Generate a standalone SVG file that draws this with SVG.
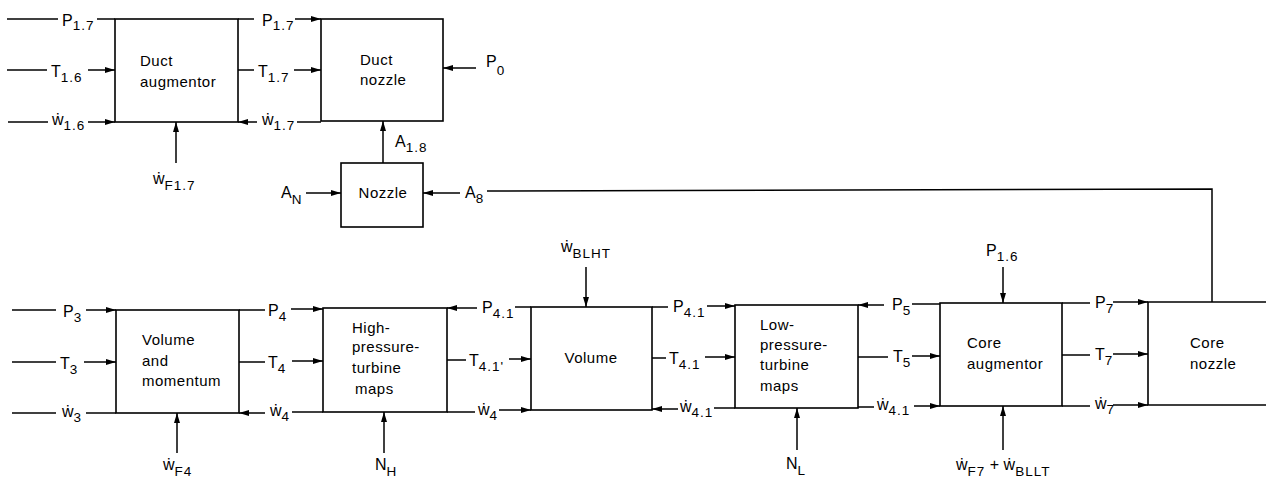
<svg xmlns="http://www.w3.org/2000/svg" width="1266" height="487" viewBox="0 0 1266 487">
<defs>
<marker id="ah" markerUnits="userSpaceOnUse" markerWidth="11" markerHeight="7" refX="10" refY="3.5" orient="auto">
<path d="M0,0.5 L10,3.5 L0,6.5 z" fill="#000"/>
</marker>
<style>
.box{fill:#fff;stroke:#000;stroke-width:1.6}
.ln{fill:none;stroke:#000;stroke-width:1.5}
.ar{fill:none;stroke:#000;stroke-width:1.5;marker-end:url(#ah)}
.bt{font-family:"Liberation Sans","DejaVu Sans",sans-serif;font-size:15px;letter-spacing:0.5px;fill:#000}
.lb{font-family:"Liberation Sans","DejaVu Sans",sans-serif;font-size:16px;fill:#000}
.sb{font-size:13.5px;letter-spacing:1px}
</style>
</defs>
<rect width="1266" height="487" fill="#fff"/>

<g id="duct-augmentor">
<rect class="box" x="115" y="19" width="123" height="103"/>
<text class="bt" x="140" y="66">Duct</text>
<text class="bt" x="140" y="87">augmentor</text>
</g>
<g id="duct-nozzle">
<rect class="box" x="321" y="19" width="122" height="102"/>
<text class="bt" x="360" y="65">Duct</text>
<text class="bt" x="360" y="85">nozzle</text>
</g>
<g id="nozzle">
<rect class="box" x="341" y="163" width="82" height="64"/>
<text class="bt" x="383" y="198" text-anchor="middle">Nozzle</text>
</g>
<g id="volume-momentum">
<rect class="box" x="116" y="310" width="123" height="103"/>
<text class="bt" x="142" y="345">Volume</text>
<text class="bt" x="142" y="366">and</text>
<text class="bt" x="142" y="386">momentum</text>
</g>
<g id="hpt-maps">
<rect class="box" x="323" y="308" width="124" height="104"/>
<text class="bt" x="352" y="333">High-</text>
<text class="bt" x="352" y="352">pressure-</text>
<text class="bt" x="352" y="373">turbine</text>
<text class="bt" x="355" y="394">maps</text>
</g>
<g id="volume">
<rect class="box" x="531" y="307" width="121" height="103"/>
<text class="bt" x="591" y="363" text-anchor="middle">Volume</text>
</g>
<g id="lpt-maps">
<rect class="box" x="735" y="305" width="123" height="103"/>
<text class="bt" x="760" y="330">Low-</text>
<text class="bt" x="760" y="350">pressure-</text>
<text class="bt" x="760" y="370">turbine</text>
<text class="bt" x="760" y="391">maps</text>
</g>
<g id="core-augmentor">
<rect class="box" x="940" y="303" width="122" height="103"/>
<text class="bt" x="967" y="348">Core</text>
<text class="bt" x="967" y="369">augmentor</text>
</g>
<g id="core-nozzle">
<path class="ln" d="M1266,302 H1148 V405 H1266" style="stroke-width:1.6"/>
<text class="bt" x="1190" y="348">Core</text>
<text class="bt" x="1190" y="369">nozzle</text>
</g>

<g id="connectors">
<line class="ln" x1="7" y1="19" x2="58" y2="19"/>
<line class="ln" x1="97" y1="19" x2="115" y2="19"/>
<line class="ln" x1="7" y1="70" x2="47" y2="70"/>
<line class="ar" x1="88" y1="70" x2="115" y2="70"/>
<line class="ln" x1="8" y1="122" x2="48" y2="122"/>
<line class="ar" x1="88" y1="122" x2="115" y2="122"/>
<line class="ln" x1="238" y1="19" x2="254" y2="19"/>
<line class="ar" x1="295" y1="19" x2="321" y2="19"/>
<line class="ln" x1="238" y1="70" x2="254" y2="70"/>
<line class="ar" x1="294" y1="70" x2="321" y2="70"/>
<line class="ar" x1="257" y1="122" x2="238" y2="122"/>
<line class="ln" x1="297" y1="122" x2="321" y2="122"/>
<line class="ar" x1="176" y1="163" x2="176" y2="122"/>
<line class="ar" x1="476" y1="68" x2="443" y2="68"/>
<line class="ar" x1="383" y1="163" x2="383" y2="121"/>
<line class="ar" x1="306" y1="193" x2="341" y2="193"/>
<line class="ar" x1="460" y1="193" x2="423" y2="193"/>
<polyline class="ln" points="487,191 1212,189 1212,302"/>
<line class="ln" x1="12" y1="310" x2="56" y2="310"/>
<line class="ar" x1="86" y1="310" x2="116" y2="310"/>
<line class="ln" x1="12" y1="362" x2="56" y2="362"/>
<line class="ar" x1="84" y1="362" x2="116" y2="362"/>
<line class="ln" x1="12" y1="413" x2="56" y2="413"/>
<line class="ln" x1="86" y1="413" x2="116" y2="413"/>
<line class="ar" x1="177" y1="453" x2="177" y2="413"/>
<line class="ln" x1="239" y1="310" x2="265" y2="310"/>
<line class="ar" x1="291" y1="309" x2="323" y2="309"/>
<line class="ln" x1="239" y1="362" x2="265" y2="362"/>
<line class="ar" x1="292" y1="361" x2="323" y2="361"/>
<line class="ar" x1="265" y1="413" x2="239" y2="413"/>
<line class="ln" x1="292" y1="412" x2="323" y2="412"/>
<line class="ar" x1="384" y1="453" x2="384" y2="412"/>
<line class="ar" x1="477" y1="308" x2="447" y2="308"/>
<line class="ln" x1="515" y1="307" x2="531" y2="307"/>
<line class="ln" x1="447" y1="360" x2="466" y2="360"/>
<line class="ar" x1="509" y1="359" x2="531" y2="359"/>
<line class="ln" x1="447" y1="412" x2="475" y2="412"/>
<line class="ar" x1="499" y1="410" x2="531" y2="410"/>
<line class="ar" x1="586" y1="267" x2="586" y2="307"/>
<line class="ln" x1="652" y1="307" x2="668" y2="307"/>
<line class="ar" x1="707" y1="306" x2="735" y2="306"/>
<line class="ln" x1="652" y1="358" x2="666" y2="358"/>
<line class="ar" x1="705" y1="357" x2="735" y2="357"/>
<line class="ar" x1="678" y1="409" x2="652" y2="409"/>
<line class="ln" x1="714" y1="408" x2="735" y2="408"/>
<line class="ar" x1="797" y1="450" x2="797" y2="408"/>
<line class="ar" x1="884" y1="305" x2="858" y2="305"/>
<line class="ln" x1="912" y1="304" x2="940" y2="304"/>
<line class="ln" x1="858" y1="357" x2="888" y2="357"/>
<line class="ar" x1="912" y1="356" x2="940" y2="356"/>
<line class="ln" x1="858" y1="407" x2="874" y2="407"/>
<line class="ar" x1="914" y1="406" x2="940" y2="406"/>
<line class="ar" x1="1003" y1="267" x2="1003" y2="303"/>
<line class="ar" x1="1003" y1="450" x2="1003" y2="406"/>
<line class="ln" x1="1062" y1="303" x2="1090" y2="303"/>
<line class="ar" x1="1113" y1="302" x2="1148" y2="302"/>
<line class="ln" x1="1062" y1="355" x2="1090" y2="355"/>
<line class="ar" x1="1113" y1="354" x2="1148" y2="354"/>
<line class="ln" x1="1062" y1="406" x2="1090" y2="406"/>
<line class="ar" x1="1113" y1="405" x2="1148" y2="405"/>
</g>

<g id="labels">
<text class="lb" x="62" y="26">P<tspan class="sb" dy="4">1.7</tspan></text>
<text class="lb" x="51" y="77">T<tspan class="sb" dy="5">1.6</tspan></text>
<text class="lb" x="52" y="125">ẇ<tspan class="sb" dy="5">1.6</tspan></text>
<text class="lb" x="262" y="26">P<tspan class="sb" dy="4">1.7</tspan></text>
<text class="lb" x="258" y="77">T<tspan class="sb" dy="5">1.7</tspan></text>
<text class="lb" x="262" y="125">ẇ<tspan class="sb" dy="5">1.7</tspan></text>
<text class="lb" x="153" y="184">ẇ<tspan class="sb" dy="6">F1.7</tspan></text>
<text class="lb" x="486" y="67">P<tspan class="sb" dy="8">0</tspan></text>
<text class="lb" x="395" y="147">A<tspan class="sb" dy="5">1.8</tspan></text>
<text class="lb" x="281" y="198">A<tspan class="sb" dy="6">N</tspan></text>
<text class="lb" x="465" y="198">A<tspan class="sb" dy="5">8</tspan></text>

<text class="lb" x="63" y="317">P<tspan class="sb" dy="5">3</tspan></text>
<text class="lb" x="60" y="369">T<tspan class="sb" dy="5">3</tspan></text>
<text class="lb" x="62" y="417">ẇ<tspan class="sb" dy="5">3</tspan></text>
<text class="lb" x="163" y="470">ẇ<tspan class="sb" dy="6">F4</tspan></text>
<text class="lb" x="268" y="316">P<tspan class="sb" dy="5">4</tspan></text>
<text class="lb" x="268" y="368">T<tspan class="sb" dy="5">4</tspan></text>
<text class="lb" x="270" y="416">ẇ<tspan class="sb" dy="5">4</tspan></text>
<text class="lb" x="375" y="470">N<tspan class="sb" dy="6">H</tspan></text>
<text class="lb" x="482" y="313">P<tspan class="sb" dy="5">4.1</tspan></text>
<text class="lb" x="469" y="366">T<tspan class="sb" dy="5">4.1'</tspan></text>
<text class="lb" x="478" y="415">ẇ<tspan class="sb" dy="5">4</tspan></text>
<text class="lb" x="561" y="252">ẇ<tspan class="sb" dy="6">BLHT</tspan></text>
<text class="lb" x="673" y="312">P<tspan class="sb" dy="5">4.1</tspan></text>
<text class="lb" x="669" y="364">T<tspan class="sb" dy="5">4.1</tspan></text>
<text class="lb" x="680" y="412">ẇ<tspan class="sb" dy="5">4.1</tspan></text>
<text class="lb" x="786" y="469">N<tspan class="sb" dy="6">L</tspan></text>
<text class="lb" x="892" y="310">P<tspan class="sb" dy="5">5</tspan></text>
<text class="lb" x="893" y="362">T<tspan class="sb" dy="5">5</tspan></text>
<text class="lb" x="877" y="410">ẇ<tspan class="sb" dy="5">4.1</tspan></text>
<text class="lb" x="986" y="256">P<tspan class="sb" dy="5">1.6</tspan></text>
<text class="lb" x="956" y="470">ẇ<tspan class="sb" dy="6">F7</tspan><tspan dy="-6"> + ẇ</tspan><tspan class="sb" dy="6">BLLT</tspan></text>
<text class="lb" x="1095" y="308">P<tspan class="sb" dy="5">7</tspan></text>
<text class="lb" x="1095" y="360">T<tspan class="sb" dy="5">7</tspan></text>
<text class="lb" x="1095" y="409">ẇ<tspan class="sb" dy="5">7</tspan></text>
</g>
</svg>
